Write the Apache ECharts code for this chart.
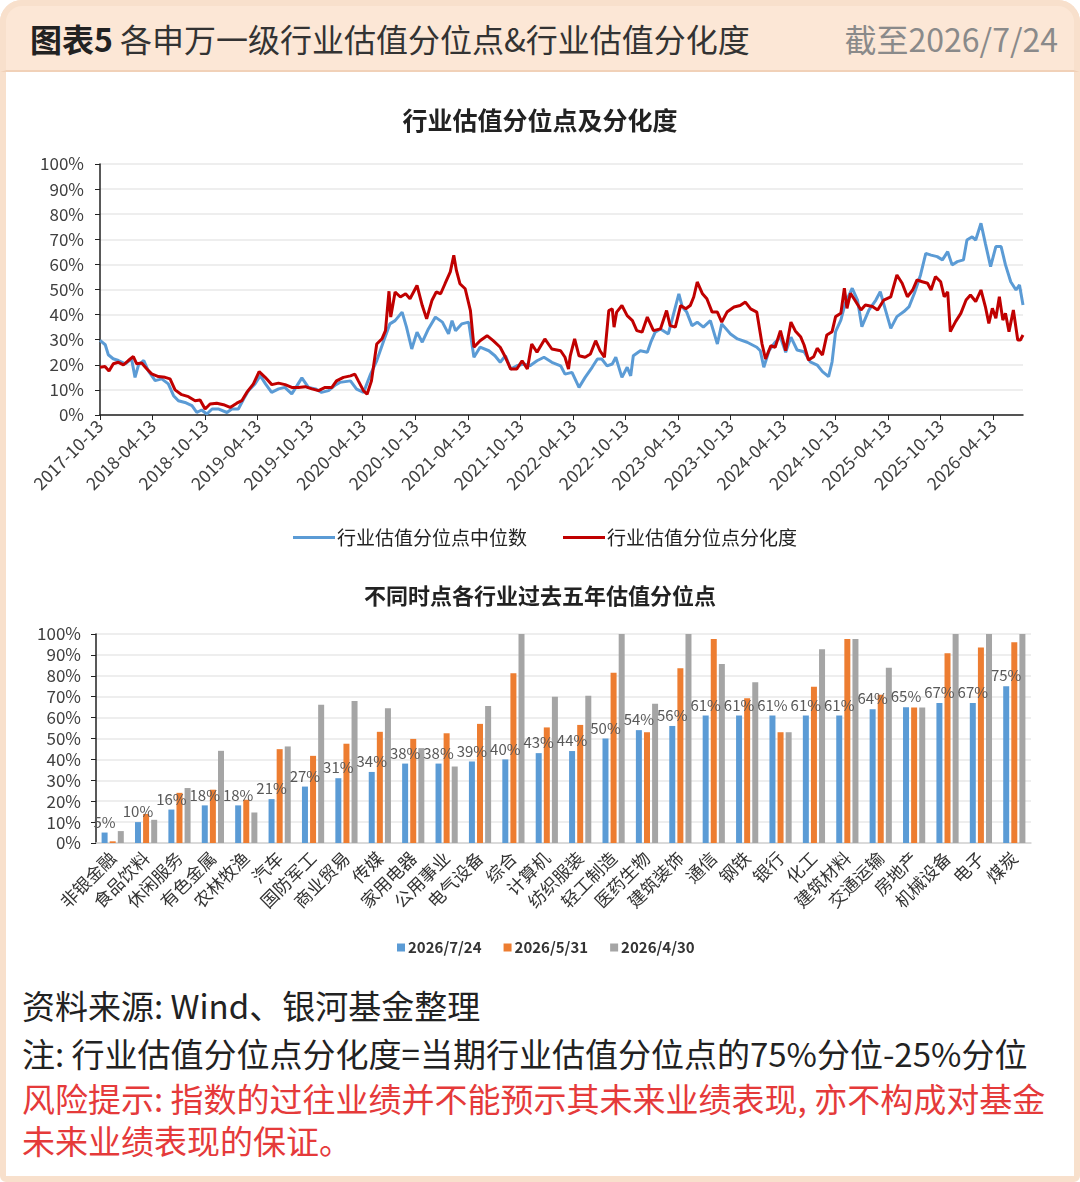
<!DOCTYPE html>
<html>
<head>
<meta charset="utf-8">
<title>各申万一级行业估值分位点&行业估值分化度</title>
<script src="https://cdn.jsdelivr.net/npm/echarts@6/dist/echarts.min.js"></script>
<style>
  html, body { margin: 0; padding: 0; background: #fff; }
  body { width: 1080px; height: 1182px; position: relative; overflow: hidden;
         font-family: "Noto Sans CJK SC", "Noto Sans", sans-serif; }
  .card { position: absolute; left: 0; top: 0; width: 1080px; height: 1182px; box-sizing: border-box;
          border: 6px solid #f8e0cc; border-radius: 22px 22px 6px 6px; background: #fff; }
  .header { position: absolute; left: 0; top: 0; width: 1080px; height: 72px; box-sizing: border-box;
            background: #fce7d6; border: 6px solid #f8e0cc; border-bottom: 2px solid #f1d1b8;
            border-radius: 22px 22px 0 0; z-index: 2; }
  .hd-title { position: absolute; left: 24px; top: 12px; font-size: 32px; line-height: 40px; color: #333; }
  .hd-title b { color: #222; font-weight: 700; }
  .hd-date { position: absolute; right: 16px; top: 12px; font-size: 32px; line-height: 40px; color: #8a8a8a; }
  #chart { position: absolute; left: 0; top: 0; width: 1080px; height: 980px; z-index: 1; }
  .note { position: absolute; left: 22px; font-size: 33px; line-height: 42px; color: #222; white-space: nowrap; z-index: 2; }
  .risk { color: #e53a3a; }
</style>
</head>
<body>
<div class="card"></div>
<div class="header">
  <span class="hd-title"><b>图表5</b> 各申万一级行业估值分位点&amp;行业估值分化度</span>
  <span class="hd-date">截至2026/7/24</span>
</div>
<div id="chart"></div>
<div class="note" style="top:984px">资料来源: Wind、银河基金整理</div>
<div class="note" style="top:1032px">注: 行业估值分位点分化度=当期行业估值分位点的75%分位-25%分位</div>
<div class="note risk" style="top:1077px">风险提示: 指数的过往业绩并不能预示其未来业绩表现, 亦不构成对基金</div>
<div class="note risk" style="top:1119px">未来业绩表现的保证。</div>
<script>
// x of the line chart = months since 2017-10-13, one label every 6 months
var dateTicks = ["2017-10-13", "2018-04-13", "2018-10-13", "2019-04-13", "2019-10-13", "2020-04-13",
  "2020-10-13", "2021-04-13", "2021-10-13", "2022-04-13", "2022-10-13", "2023-04-13",
  "2023-10-13", "2024-04-13", "2024-10-13", "2025-04-13", "2025-10-13", "2026-04-13"];

// 行业估值分位点中位数 (%), [month, value]
var medianPts = [
  [0, 29.7], [0.6, 28], [0.95, 24], [1.5, 22.4], [2.1, 21.7], [2.9, 20.4], [3.6, 22.4], [4.0, 15],
  [4.4, 20], [5.0, 21.7], [5.5, 17.7], [6.3, 13.7], [7.05, 14.4], [7.8, 12.4], [8.4, 7.7], [8.95, 5.7],
  [9.7, 5], [10.5, 3.7], [11.05, 1], [11.6, 2], [12.2, 0.4], [12.8, 2.4], [13.5, 2.4], [14.5, 1],
  [15.05, 2.4], [15.8, 2.4], [16.4, 6.4], [16.95, 9.7], [17.7, 12.4], [18.3, 15.7], [18.9, 12.4],
  [19.6, 9], [20.4, 10.4], [21.1, 11], [21.9, 8.4], [22.5, 11.7], [23.05, 14.8], [23.8, 11],
  [24.6, 10.4], [25.3, 9], [26.1, 9.7], [26.9, 12], [27.4, 13], [28.6, 13.6], [29.3, 10.3], [30.1, 9],
  [30.9, 16.3], [31.6, 21.6], [32.4, 29.6], [33.1, 36.3], [33.7, 37.6], [34.5, 41], [35.0, 35],
  [35.6, 26.3], [36.2, 33], [36.8, 29], [37.5, 34.3], [38.3, 39], [39.1, 37], [39.8, 32.3],
  [40.2, 37.6], [40.6, 33.6], [41.3, 36.3], [42.1, 37], [42.7, 23], [43.4, 27], [44.4, 25.6],
  [45.1, 23.6], [45.7, 21], [46.3, 23.6], [46.9, 18.3], [47.6, 19.6], [48.4, 20.3], [49.1, 19.6],
  [49.9, 21.6], [50.7, 23], [51.6, 21], [52.6, 19.6], [53.1, 16.3], [53.9, 17], [54.7, 11], [55.4, 15],
  [56.2, 19], [56.8, 22.3], [57.3, 22.3], [57.9, 19.6], [58.5, 20.3], [58.9, 23], [59.6, 15], [60.2, 19],
  [60.6, 15.6], [60.9, 23.6], [61.7, 25.6], [62.5, 25], [62.9, 29], [63.4, 33], [64.0, 34.3],
  [64.9, 32.3], [65.5, 40.3], [66.1, 48.3], [66.5, 43], [67.0, 41], [67.6, 35.6], [68.2, 37], [68.9, 35],
  [69.7, 37.6], [70.5, 28.3], [71.0, 36.3], [72.0, 32.3], [72.8, 30.3], [73.9, 29], [75.0, 27],
  [75.4, 25.6], [75.8, 19], [76.4, 25.6], [77.1, 29], [77.7, 31], [78.3, 25], [78.9, 31], [79.6, 25.9],
  [80.4, 25.2], [81.1, 21.2], [81.9, 19.9], [82.5, 17.3], [83.2, 15.3], [83.6, 21.2], [84.0, 33.2],
  [84.6, 37.8], [85.1, 44.5], [85.9, 50.5], [86.5, 45.8], [87.0, 35.2], [87.8, 41.8], [88.6, 45.8],
  [89.1, 49.1], [89.7, 41.8], [90.3, 34.5], [91.0, 39.2], [91.8, 41.2], [92.4, 43.2], [93.0, 48.5],
  [93.7, 55.8], [94.3, 64.4], [94.9, 63.7], [95.6, 63.1], [96.2, 61.8], [96.8, 65.1], [97.3, 59.8],
  [97.9, 61.1], [98.6, 61.8], [99.0, 69.7], [99.6, 71.0], [100.0, 69.7], [100.6, 76.4], [101.1, 68.4],
  [101.7, 59.1], [102.3, 67.1], [102.9, 67.1], [103.4, 59.8], [104.0, 53.1], [104.6, 49.8],
  [105.0, 51.8], [105.4, 43.8]
];

// 行业估值分位点分化度 (%), [month, value]
var dispersionPts = [
  [0, 19], [0.57, 19.3], [1.03, 17.5], [1.52, 20.4], [2.1, 21], [2.67, 20], [3.24, 21.7], [3.81, 23.3],
  [4.19, 20.4], [4.76, 20.7], [5.33, 18.4], [5.9, 16.4], [6.67, 15.3], [7.43, 15], [8.0, 14.4],
  [8.57, 10], [9.33, 8.1], [10.1, 7.3], [10.86, 5.7], [11.43, 6], [12.0, 2.4], [12.57, 4.4],
  [13.33, 4.7], [14.1, 4.1], [14.86, 3], [15.62, 4.7], [16.19, 5.7], [16.76, 9], [17.52, 12.4],
  [18.17, 17.3], [18.86, 15], [19.62, 12.1], [20.38, 12.7], [21.14, 12.1], [21.9, 11], [22.67, 11],
  [23.43, 11.3], [24.19, 10.4], [24.95, 9.7], [25.71, 11], [26.48, 11], [27.0, 13.6], [27.8, 15],
  [28.6, 15.6], [29.1, 16.3], [29.5, 13.6], [30.1, 9.6], [30.5, 8.3], [31.0, 13.6], [31.6, 28.3],
  [32.2, 30.3], [32.6, 33.6], [33.0, 49.3], [33.2, 39], [33.7, 49], [34.3, 47], [34.9, 48.3],
  [35.4, 46.3], [36.2, 51.6], [36.8, 43.6], [37.3, 38.3], [37.9, 45.6], [38.4, 49], [38.9, 48.3],
  [39.4, 52.3], [40.0, 57], [40.4, 63.6], [40.7, 57.6], [41.1, 52.3], [41.7, 50.3], [42.3, 41.6],
  [42.7, 27], [43.4, 29.6], [44.2, 31.6], [44.9, 29.6], [45.7, 27], [46.3, 23], [46.9, 18.3],
  [47.6, 18.3], [48.2, 21.6], [48.8, 18.3], [49.3, 28.3], [49.9, 25], [50.8, 30.3], [51.6, 26.3],
  [52.6, 25.6], [53.1, 23], [53.5, 18.3], [53.7, 23.6], [54.2, 30.3], [54.7, 23.6], [55.4, 23],
  [56.0, 24.3], [56.6, 29.6], [57.1, 25.6], [57.6, 23], [58.1, 41.6], [58.5, 42.3], [58.7, 35],
  [59.0, 41], [59.6, 43.6], [60.2, 39.6], [60.8, 37.6], [61.3, 33.6], [61.9, 33], [62.5, 39],
  [63.2, 33.6], [64.0, 34.3], [64.7, 41.6], [65.1, 35.6], [65.7, 35], [66.3, 43.6], [66.9, 42.3],
  [67.4, 43.6], [67.8, 47], [68.2, 53], [68.8, 48.3], [69.3, 46.3], [69.9, 41], [70.5, 41], [71.0, 37],
  [71.6, 41], [72.4, 43], [73.1, 43.6], [73.7, 45], [74.3, 42.3], [75.0, 41], [75.6, 28.3], [76.0, 22.3],
  [76.6, 27.6], [77.1, 27], [77.7, 33.6], [78.3, 25.6], [78.9, 37], [79.4, 33.5], [80.0, 31.2],
  [80.4, 27.9], [80.9, 21.9], [81.5, 23.2], [81.9, 26.6], [82.5, 23.9], [83.0, 31.9], [83.6, 33.2],
  [84.0, 39.2], [84.6, 40.5], [85.0, 50.5], [85.3, 42.5], [85.7, 48.5], [86.3, 45.2], [86.9, 41.8],
  [87.4, 43.8], [88.2, 43.2], [88.8, 41.8], [89.5, 45.8], [90.3, 47.1], [91.0, 55.8], [91.6, 52.5],
  [92.2, 47.1], [92.8, 49.8], [93.3, 53.8], [93.9, 53.1], [94.5, 52.5], [94.9, 49.8], [95.4, 55.1],
  [96.0, 53.1], [96.4, 47.1], [96.8, 49.1], [97.1, 33.2], [97.7, 37.2], [98.3, 40.5], [98.9, 45.8],
  [99.4, 47.8], [100.0, 45.2], [100.6, 49.8], [101.1, 43.2], [101.5, 36.5], [101.9, 42.5],
  [102.3, 38.5], [102.7, 47.1], [103.1, 37.8], [103.4, 40.5], [103.8, 33.2], [104.3, 41.8],
  [104.8, 29.9], [105.1, 29.9], [105.4, 31.9]
];

var industries = ["非银金融", "食品饮料", "休闲服务", "有色金属", "农林牧渔", "汽车", "国防军工", "商业贸易",
  "传媒", "家用电器", "公用事业", "电气设备", "综合", "计算机", "纺织服装", "轻工制造", "医药生物",
  "建筑装饰", "通信", "钢铁", "银行", "化工", "建筑材料", "交通运输", "房地产", "机械设备", "电子", "煤炭"];

// 过去五年估值分位点 (%)
var pct0724 = [5, 10, 16, 18, 18, 21, 27, 31, 34, 38, 38, 39, 40, 43, 44, 50, 54, 56, 61, 61, 61, 61, 61, 64, 65, 67, 67, 75];
var pct0531 = [0.8, 13.9, 24, 25.5, 20.7, 44.9, 41.7, 47.5, 53.2, 49.8, 52.5, 57, 81.2, 55.3, 56.5, 81.5, 53, 83.6, 97.6, 69.3, 53, 74.8, 97.6, 70.9, 64.8, 90.8, 93.5, 96];
var pct0430 = [5.7, 11.1, 26.3, 44.1, 14.6, 46.2, 66.1, 68, 64.5, 45.4, 36.6, 65.6, 100, 70, 70.4, 100, 66.6, 100, 85.7, 76.9, 53, 92.7, 97.6, 83.9, 64.8, 100, 100, 100];

(function () {
  "use strict";

  var FONT = '"Noto Sans CJK SC", "Noto Sans", sans-serif';
  var AXIS_TXT = "#404040";
  var GRID_LINE = "#e9e9e9";

  function pctAxis(gridIndex, margin) {
    return {
      type: "value", gridIndex: gridIndex, min: 0, max: 100, interval: 10,
      axisLine: { show: true, lineStyle: { color: "#222", width: 1.5 } },
      axisTick: { show: true, inside: false, length: 5, lineStyle: { color: "#222" } },
      axisLabel: { formatter: "{value}%", color: AXIS_TXT, fontSize: 17, fontFamily: FONT, margin: margin },
      splitLine: { show: true, lineStyle: { color: GRID_LINE, width: 1.5 } }
    };
  }

  function renderChart() {
    var el = document.getElementById("chart");
    var chart = echarts.init(el, null, { renderer: "canvas" });

    var option = {
      animation: false,
      textStyle: { fontFamily: FONT },
      title: [
        { text: "行业估值分位点及分化度", left: "center", top: 103,
          textStyle: { fontSize: 25, fontWeight: "bold", color: "#222", fontFamily: FONT } },
        { text: "不同时点各行业过去五年估值分位点", left: "center", top: 580,
          textStyle: { fontSize: 22, fontWeight: "bold", color: "#222", fontFamily: FONT } }
      ],
      legend: [
        { data: ["行业估值分位点中位数", "行业估值分位点分化度"], left: 288, top: 523,
          icon: "rect", itemWidth: 42, itemHeight: 3, itemGap: 36,
          textStyle: { fontSize: 19, color: "#222", fontFamily: FONT, padding: [0, 0, 0, -3] } },
        { data: ["2026/7/24", "2026/5/31", "2026/4/30"], left: 392, top: 935,
          icon: "rect", itemWidth: 8, itemHeight: 8, itemGap: 22,
          textStyle: { fontSize: 15, fontWeight: "bold", color: "#333", fontFamily: FONT, padding: [0, 0, 0, -2] } }
      ],
      grid: [
        { left: 100, right: 57, top: 164, height: 251 },
        { left: 96, right: 49, top: 634, height: 209 }
      ],
      xAxis: [
        {
          type: "value", gridIndex: 0, min: 0, max: 105.4, interval: 6,
          axisLine: { show: true, lineStyle: { color: "#222", width: 1.5 } },
          axisTick: { show: true, inside: false, length: 5, lineStyle: { color: "#222" } },
          splitLine: { show: false },
          axisLabel: {
            rotate: 45, color: AXIS_TXT, fontSize: 17.5, fontFamily: FONT, margin: 8,
            showMaxLabel: false,
            formatter: function (v) {
              var i = Math.round(v / 6);
              return Math.abs(v - i * 6) < 0.01 && dateTicks[i] ? dateTicks[i] : "";
            }
          }
        },
        {
          type: "category", gridIndex: 1, data: industries,
          axisLine: { show: true, lineStyle: { color: "#d4d4d4", width: 1.5 } },
          axisTick: { show: false },
          axisLabel: { rotate: 45, interval: 0, color: "#333", fontSize: 17.5, fontFamily: FONT, margin: 12 }
        }
      ],
      yAxis: [pctAxis(0, 16), pctAxis(1, 15)],
      series: [
        { name: "行业估值分位点中位数", type: "line", xAxisIndex: 0, yAxisIndex: 0, data: medianPts,
          showSymbol: false, color: "#5B9BD5", lineStyle: { width: 3, color: "#5B9BD5" } },
        { name: "行业估值分位点分化度", type: "line", xAxisIndex: 0, yAxisIndex: 0, data: dispersionPts,
          showSymbol: false, color: "#C00000", lineStyle: { width: 3, color: "#C00000" } },
        { name: "2026/7/24", type: "bar", xAxisIndex: 1, yAxisIndex: 1, data: pct0724,
          color: "#5B9BD5", barWidth: 6, barGap: "35%",
          label: { show: true, position: "top", distance: 3, formatter: "{c}%",
                   color: "#595959", fontSize: 15, fontFamily: FONT } },
        { name: "2026/5/31", type: "bar", xAxisIndex: 1, yAxisIndex: 1, data: pct0531,
          color: "#ED7D31", barWidth: 6, barGap: "35%" },
        { name: "2026/4/30", type: "bar", xAxisIndex: 1, yAxisIndex: 1, data: pct0430,
          color: "#A5A5A5", barWidth: 6, barGap: "35%" }
      ]
    };

    chart.setOption(option);
    window.addEventListener("resize", function () {
      chart.resize();
    });
  }

  if (document.readyState === "loading") {
    document.addEventListener("DOMContentLoaded", renderChart);
  } else {
    renderChart();
  }
})();
</script>
</body>
</html>
